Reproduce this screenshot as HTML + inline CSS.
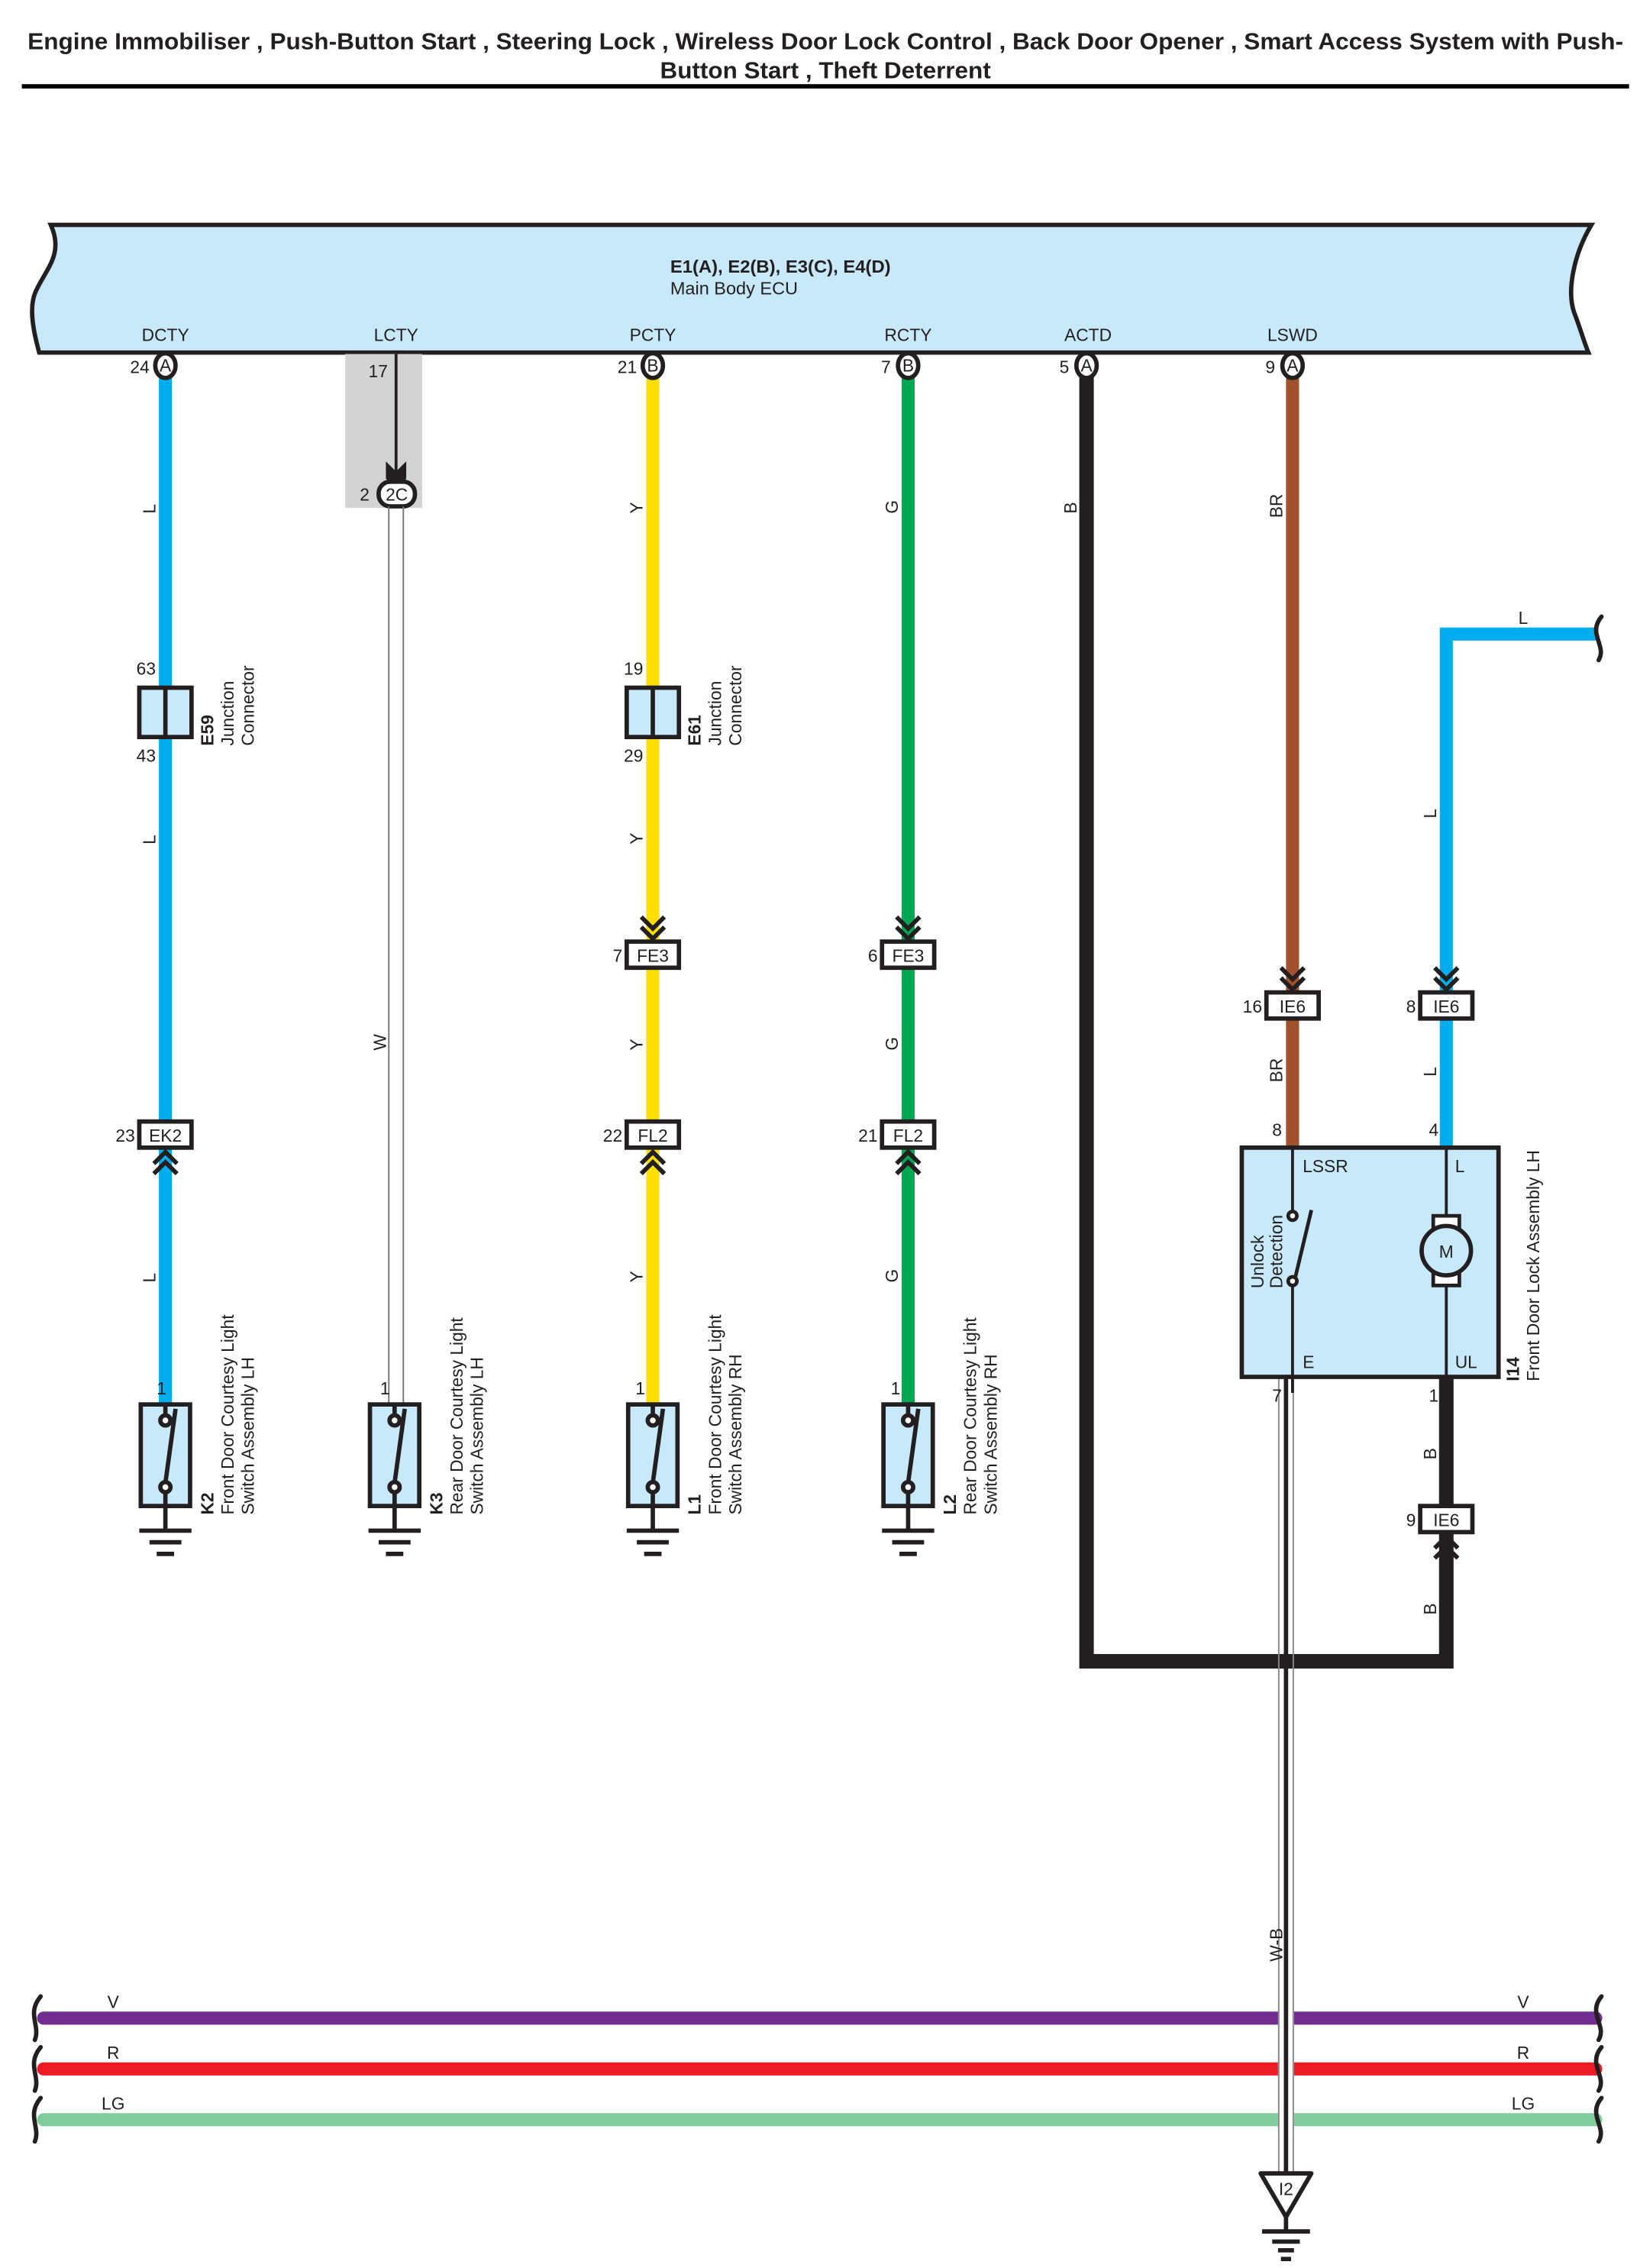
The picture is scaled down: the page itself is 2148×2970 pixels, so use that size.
<!DOCTYPE html>
<html><head><meta charset="utf-8"><style>
html,body{margin:0;padding:0;background:#fff}
svg{display:block}
text{font-family:"Liberation Sans",sans-serif;fill:#231f20}
.s{font-size:12px}
.b{font-weight:bold}
</style></head><body>
<svg width="2148" height="2970" viewBox="0 0 1130.5 1563.2" xmlns="http://www.w3.org/2000/svg">
<rect width="1130.5" height="1563.2" fill="#fff"/>
<text x="569" y="34" text-anchor="middle" font-size="16" class="b" textLength="1100" lengthAdjust="spacingAndGlyphs">Engine Immobiliser , Push-Button Start , Steering Lock , Wireless Door Lock Control , Back Door Opener , Smart Access System with Push-</text>
<text x="569" y="54" text-anchor="middle" font-size="16" class="b" textLength="228" lengthAdjust="spacingAndGlyphs">Button Start , Theft Deterrent</text>
<rect x="15" y="58" width="1108" height="3" fill="#000"/>

<path d="M35 155 L1097 155 C1085 175 1080 200 1085 215 C1090 228 1092 236 1095 243 L27 243 C22 225 20 210 25 200 C32 185 44 175 35 155 Z" fill="#c8e9fa" stroke="#231f20" stroke-width="3"/>
<text x="462" y="188" class="s b" textLength="152" lengthAdjust="spacingAndGlyphs">E1(A), E2(B), E3(C), E4(D)</text>
<text x="462" y="203" class="s" textLength="88" lengthAdjust="spacingAndGlyphs">Main Body ECU</text>
<g class="s" text-anchor="middle">
<text x="114" y="235">DCTY</text><text x="273" y="235">LCTY</text><text x="450" y="235">PCTY</text>
<text x="626" y="235">RCTY</text><text x="750" y="235">ACTD</text><text x="891" y="235">LSWD</text>
</g>

<rect x="238" y="244" width="53" height="106" fill="#d1d3d4"/>
<line x1="273" y1="244" x2="273" y2="326" stroke="#231f20" stroke-width="2"/>
<path d="M266 318 L273 325 L280 318 L280 330 L273 336 L266 330 Z" fill="#231f20"/>
<rect x="261" y="332" width="25" height="17" rx="8" fill="#fff" stroke="#231f20" stroke-width="3"/>
<text x="273.5" y="345" class="s" text-anchor="middle">2C</text>
<text x="254" y="260" class="s">17</text>
<text x="248" y="345" class="s">2</text>
<line x1="268" y1="349" x2="268" y2="968" stroke="#777" stroke-width="1"/>
<line x1="278" y1="349" x2="278" y2="968" stroke="#777" stroke-width="1"/>

<line x1="114" y1="260" x2="114" y2="968" stroke="#00adee" stroke-width="9"/>
<line x1="450" y1="260" x2="450" y2="968" stroke="#ffdf00" stroke-width="9"/>
<line x1="626" y1="260" x2="626" y2="968" stroke="#00a651" stroke-width="9"/>
<line x1="891" y1="260" x2="891" y2="791" stroke="#a0522d" stroke-width="9"/>
<path d="M1100 437 L997 437 L997 791" fill="none" stroke="#00adee" stroke-width="9"/>
<path d="M749 260 L749 1145 L997 1145 L997 950" fill="none" stroke="#231f20" stroke-width="10"/>

<line x1="881.5" y1="950" x2="881.5" y2="1498" stroke="#888" stroke-width="1"/>
<line x1="891.5" y1="950" x2="891.5" y2="1498" stroke="#888" stroke-width="1"/>

<g stroke-width="9" stroke-linecap="round">
<line x1="30" y1="1391" x2="1100" y2="1391" stroke="#712c91"/>
<line x1="30" y1="1426" x2="1100" y2="1426" stroke="#ed1c24"/>
<line x1="30" y1="1461" x2="1100" y2="1461" stroke="#80cc9c"/>
</g>
<rect x="881" y="1380" width="11" height="90" fill="#fff"/>
<line x1="881.5" y1="1380" x2="881.5" y2="1470" stroke="#888" stroke-width="1"/>
<line x1="891.5" y1="1380" x2="891.5" y2="1470" stroke="#888" stroke-width="1"/>
<line x1="886.5" y1="950" x2="886.5" y2="1498" stroke="#231f20" stroke-width="3"/>
<g fill="none" stroke="#231f20" stroke-width="3" stroke-linecap="round">
<path d="M28 1376 C18 1388 28 1396 24 1406 M28 1411 C18 1423 28 1431 24 1441 M28 1446 C18 1458 28 1466 24 1476"/>
<path d="M1104 1376 C1094 1388 1108 1396 1102 1406 M1104 1411 C1094 1423 1108 1431 1102 1441 M1104 1446 C1094 1458 1108 1466 1102 1476"/>
<path d="M1104 425 C1094 437 1108 445 1102 455"/>
</g>
<g class="s" text-anchor="middle">
<text x="78" y="1384">V</text><text x="78" y="1419">R</text><text x="78" y="1454">LG</text>
<text x="1050" y="1384">V</text><text x="1050" y="1419">R</text><text x="1050" y="1454">LG</text>
<text x="1050" y="430">L</text>
</g>

<g stroke="#231f20" stroke-width="3" fill="#fff">
<ellipse cx="114" cy="252" rx="7" ry="8.5"/><ellipse cx="450" cy="252" rx="7" ry="8.5"/>
<ellipse cx="626" cy="252" rx="7" ry="8.5"/><ellipse cx="749" cy="252" rx="7" ry="8.5"/>
<ellipse cx="891" cy="252" rx="7" ry="8.5"/>
</g>
<g class="s" text-anchor="middle" font-size="11">
<text x="114" y="256">A</text><text x="450" y="256">B</text><text x="626" y="256">B</text><text x="749" y="256">A</text><text x="891" y="256">A</text>
</g>
<g class="s" text-anchor="end">
<text x="103" y="257">24</text><text x="439" y="257">21</text><text x="614" y="257">7</text><text x="737" y="257">5</text><text x="879" y="257">9</text>
</g>

<g stroke="#231f20" stroke-width="3" fill="#c8e9fa">
<rect x="96" y="474" width="36" height="34"/><line x1="114" y1="474" x2="114" y2="508"/>
<rect x="432" y="474" width="36" height="34"/><line x1="450" y1="474" x2="450" y2="508"/>
</g>
<g class="s">
<text x="94" y="465">63</text><text x="94" y="525">43</text>
<text x="430" y="465">19</text><text x="430" y="525">29</text>
</g>
<g class="s">
<text transform="translate(147,514) rotate(-90)" class="b">E59</text>
<text transform="translate(161,514) rotate(-90)">Junction</text>
<text transform="translate(175,514) rotate(-90)">Connector</text>
<text transform="translate(483,514) rotate(-90)" class="b">E61</text>
<text transform="translate(497,514) rotate(-90)">Junction</text>
<text transform="translate(511,514) rotate(-90)">Connector</text>
</g>

<g stroke="#231f20" stroke-width="3" fill="#fff">
<rect x="96" y="773" width="36" height="18"/>
<rect x="432" y="649" width="36" height="18"/><rect x="432" y="773" width="36" height="18"/>
<rect x="608" y="649" width="36" height="18"/><rect x="608" y="773" width="36" height="18"/>
<rect x="873" y="684" width="36" height="18"/><rect x="979" y="684" width="36" height="18"/>
<rect x="979" y="1038" width="36" height="18"/>
</g>
<g class="s" text-anchor="middle">
<text x="114" y="787">EK2</text>
<text x="450" y="663">FE3</text><text x="450" y="787">FL2</text>
<text x="626" y="663">FE3</text><text x="626" y="787">FL2</text>
<text x="891" y="698">IE6</text><text x="997" y="698">IE6</text><text x="997" y="1052">IE6</text>
</g>
<g class="s" text-anchor="end">
<text x="93" y="787">23</text><text x="429" y="663">7</text><text x="429" y="787">22</text>
<text x="605" y="663">6</text><text x="605" y="787">21</text>
<text x="870" y="698">16</text><text x="976" y="698">8</text><text x="976" y="1052">9</text>
</g>
<g fill="none" stroke="#231f20" stroke-width="3">
<path d="M442 632 L450 640 L458 632 M442 639 L450 647 L458 639"/>
<path d="M618 632 L626 640 L634 632 M618 639 L626 647 L634 639"/>
<path d="M883 667 L891 675 L899 667 M883 674 L891 682 L899 674"/>
<path d="M989 667 L997 675 L1005 667 M989 674 L997 682 L1005 674"/>
<path d="M106 802 L114 794 L122 802 M106 809 L114 801 L122 809"/>
<path d="M442 802 L450 794 L458 802 M442 809 L450 801 L458 809"/>
<path d="M618 802 L626 794 L634 802 M618 809 L626 801 L634 809"/>
<path d="M989 1067 L997 1059 L1005 1067 M989 1074 L997 1066 L1005 1074"/>
</g>

<g class="s" font-size="11">
<text transform="translate(107,354) rotate(-90)">L</text>
<text transform="translate(107,582) rotate(-90)">L</text>
<text transform="translate(107,884) rotate(-90)">L</text>
<text transform="translate(266,724) rotate(-90)">W</text>
<text transform="translate(443,354) rotate(-90)">Y</text>
<text transform="translate(443,582) rotate(-90)">Y</text>
<text transform="translate(443,724) rotate(-90)">Y</text>
<text transform="translate(443,884) rotate(-90)">Y</text>
<text transform="translate(619,354) rotate(-90)">G</text>
<text transform="translate(619,724) rotate(-90)">G</text>
<text transform="translate(619,884) rotate(-90)">G</text>
<text transform="translate(742,354) rotate(-90)">B</text>
<text transform="translate(884,357) rotate(-90)">BR</text>
<text transform="translate(884,746) rotate(-90)">BR</text>
<text transform="translate(990,564) rotate(-90)">L</text>
<text transform="translate(990,742) rotate(-90)">L</text>
<text transform="translate(990,1006) rotate(-90)">B</text>
<text transform="translate(990,1113) rotate(-90)">B</text>
<text transform="translate(884,1352) rotate(-90)">W-B</text>
</g>

<g id="sw1">
<g stroke="#231f20" stroke-width="3" fill="none">
<rect x="97" y="968" width="34" height="70" fill="#c8e9fa"/>
<line x1="114" y1="968" x2="114" y2="975"/>
<circle cx="114" cy="979" r="3.5" fill="#fff"/>
<line x1="121" y1="971" x2="114" y2="1022"/>
<circle cx="114" cy="1025" r="3.5" fill="#fff"/>
<line x1="114" y1="1029" x2="114" y2="1054"/>
<line x1="96" y1="1055" x2="132" y2="1055"/>
<line x1="103" y1="1063" x2="125" y2="1063"/>
<line x1="108" y1="1071" x2="120" y2="1071"/>
</g>
</g>
<use href="#sw1" x="158"/>
<use href="#sw1" x="336"/>
<use href="#sw1" x="512"/>
<g class="s">
<text x="108" y="961">1</text><text x="262" y="961">1</text><text x="438" y="961">1</text><text x="614" y="961">1</text>
<text transform="translate(147,1044) rotate(-90)" class="b">K2</text>
<text transform="translate(161,1044) rotate(-90)">Front Door Courtesy Light</text>
<text transform="translate(175,1044) rotate(-90)">Switch Assembly LH</text>
<text transform="translate(305,1044) rotate(-90)" class="b">K3</text>
<text transform="translate(319,1044) rotate(-90)">Rear Door Courtesy Light</text>
<text transform="translate(333,1044) rotate(-90)">Switch Assembly LH</text>
<text transform="translate(483,1044) rotate(-90)" class="b">L1</text>
<text transform="translate(497,1044) rotate(-90)">Front Door Courtesy Light</text>
<text transform="translate(511,1044) rotate(-90)">Switch Assembly RH</text>
<text transform="translate(659,1044) rotate(-90)" class="b">L2</text>
<text transform="translate(673,1044) rotate(-90)">Rear Door Courtesy Light</text>
<text transform="translate(687,1044) rotate(-90)">Switch Assembly RH</text>
</g>

<rect x="856" y="791" width="177" height="158" fill="#c8e9fa" stroke="#231f20" stroke-width="3"/>
<g stroke="#231f20" stroke-width="2" fill="none">
<line x1="891" y1="791" x2="891" y2="835"/>
<circle cx="891" cy="838" r="3" fill="#fff" stroke-width="2.5"/>
<line x1="904" y1="834" x2="893" y2="880" stroke-width="2.5"/>
<circle cx="891" cy="883" r="3" fill="#fff" stroke-width="2.5"/>
<line x1="891" y1="886" x2="891" y2="950"/>
<line x1="997" y1="791" x2="997" y2="838"/>
<rect x="988" y="838" width="18" height="48" fill="#fff" stroke-width="2.5"/>
<circle cx="997" cy="862" r="17" fill="#c8e9fa" stroke-width="3"/>
<line x1="997" y1="886" x2="997" y2="950"/>
</g>
<line x1="891" y1="949" x2="891" y2="960" stroke="#231f20" stroke-width="2"/>
<text x="997" y="867" class="s" text-anchor="middle">M</text>
<g class="s">
<text x="898" y="808">LSSR</text><text x="1003" y="808">L</text>
<text x="898" y="943">E</text><text x="1003" y="943">UL</text>
<text x="877" y="783">8</text><text x="985" y="783">4</text>
<text x="877" y="966">7</text><text x="985" y="966">1</text>
<text transform="translate(871,888) rotate(-90)">Unlock</text>
<text transform="translate(884,888) rotate(-90)">Detection</text>
<text transform="translate(1047,952) rotate(-90)" class="b">I14</text>
<text transform="translate(1061,952) rotate(-90)">Front Door Lock Assembly LH</text>
</g>

<path d="M869 1498 L904 1498 L886.5 1528 Z" fill="#fff" stroke="#231f20" stroke-width="3" stroke-linejoin="round"/>
<text x="886.5" y="1513" class="s" text-anchor="middle">I2</text>
<g stroke="#231f20" stroke-width="3">
<line x1="886.5" y1="1528" x2="886.5" y2="1538"/>
<line x1="870" y1="1538" x2="903" y2="1538"/>
<line x1="877" y1="1545" x2="896" y2="1545"/>
<line x1="881" y1="1551" x2="892" y2="1551"/>
<line x1="883" y1="1557" x2="890" y2="1557"/>
</g>
</svg>
</body></html>
